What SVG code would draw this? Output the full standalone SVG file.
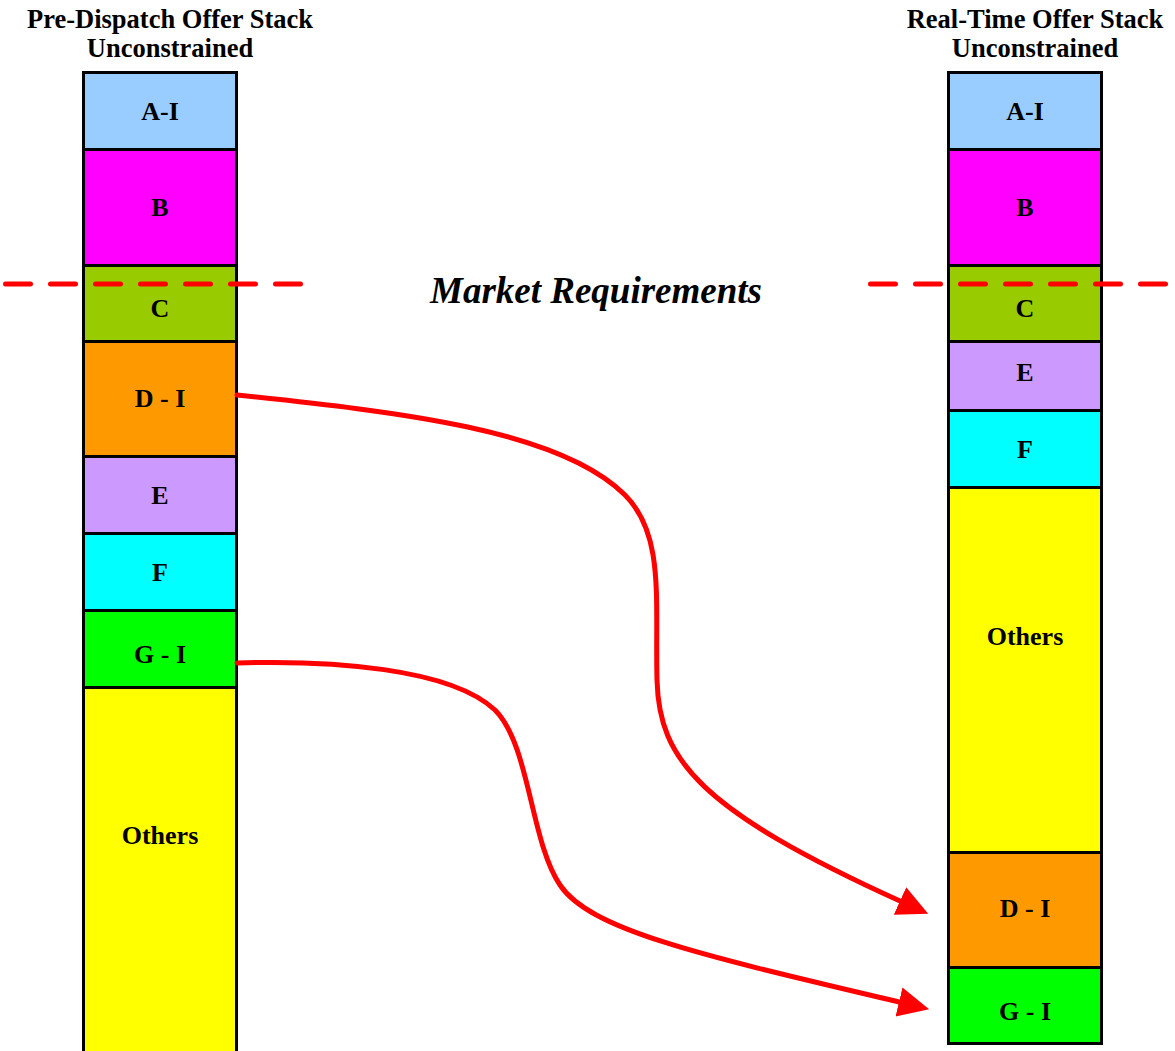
<svg xmlns="http://www.w3.org/2000/svg" width="1175" height="1051" viewBox="0 0 1175 1051">
  <style>
    .blk { stroke: #000; stroke-width: 3; }
    .lbl { font-family: "Liberation Serif", "Times New Roman", serif; font-weight: bold; font-size: 26px; text-anchor: middle; fill: #000; }
    .ttl { font-family: "Liberation Serif", "Times New Roman", serif; font-weight: bold; font-size: 26.5px; text-anchor: middle; fill: #000; }
    .req { font-family: "Liberation Serif", "Times New Roman", serif; font-weight: bold; font-style: italic; font-size: 37px; text-anchor: middle; fill: #000; }
    .cut { stroke: #FF0000; stroke-width: 5; stroke-dasharray: 25 20; stroke-linecap: round; fill: none; }
    .flow { stroke: #FF0000; stroke-width: 5; fill: none; stroke-linecap: round; }
  </style>
  <defs>
    <marker id="head" markerUnits="userSpaceOnUse" markerWidth="34" markerHeight="32" viewBox="0 -16 34 32" refX="0" refY="0" orient="auto">
      <path d="M0,-15 L31,0 L0,15 z" fill="#FF0000"/>
    </marker>
  </defs>

  <rect width="1175" height="1051" fill="#FFFFFF"/>

  <!-- Titles -->
  <text class="ttl" x="170" y="28">Pre-Dispatch Offer Stack</text>
  <text class="ttl" x="170" y="57">Unconstrained</text>
  <text class="ttl" x="1035" y="28">Real-Time Offer Stack</text>
  <text class="ttl" x="1035" y="57">Unconstrained</text>

  <!-- Pre-dispatch stack -->
  <g id="pd-ai"><rect class="blk" x="83.5" y="72.5" width="153" height="77" fill="#99CCFF"/><text class="lbl" x="160" y="120">A-I</text></g>
  <g id="pd-b"><rect class="blk" x="83.5" y="149.5" width="153" height="116" fill="#FF00FF"/><text class="lbl" x="160" y="216">B</text></g>
  <g id="pd-c"><rect class="blk" x="83.5" y="265.5" width="153" height="76" fill="#99CC00"/><text class="lbl" x="160" y="317">C</text></g>
  <g id="pd-di"><rect class="blk" x="83.5" y="341.5" width="153" height="115" fill="#FF9900"/><text class="lbl" x="160" y="407">D - I</text></g>
  <g id="pd-e"><rect class="blk" x="83.5" y="456.5" width="153" height="77" fill="#CC99FF"/><text class="lbl" x="160" y="504">E</text></g>
  <g id="pd-f"><rect class="blk" x="83.5" y="533.5" width="153" height="77" fill="#00FFFF"/><text class="lbl" x="160" y="581">F</text></g>
  <g id="pd-gi"><rect class="blk" x="83.5" y="610.5" width="153" height="77" fill="#00FF00"/><text class="lbl" x="160" y="663">G - I</text></g>
  <g id="pd-others"><rect class="blk" x="83.5" y="687.5" width="153" height="380" fill="#FFFF00"/><text class="lbl" x="160" y="844">Others</text></g>

  <!-- Real-time stack -->
  <g id="rt-ai"><rect class="blk" x="948.5" y="72.5" width="153" height="77" fill="#99CCFF"/><text class="lbl" x="1025" y="120">A-I</text></g>
  <g id="rt-b"><rect class="blk" x="948.5" y="149.5" width="153" height="116" fill="#FF00FF"/><text class="lbl" x="1025" y="216">B</text></g>
  <g id="rt-c"><rect class="blk" x="948.5" y="265.5" width="153" height="76" fill="#99CC00"/><text class="lbl" x="1025" y="317">C</text></g>
  <g id="rt-e"><rect class="blk" x="948.5" y="341.5" width="153" height="69" fill="#CC99FF"/><text class="lbl" x="1025" y="381">E</text></g>
  <g id="rt-f"><rect class="blk" x="948.5" y="410.5" width="153" height="77" fill="#00FFFF"/><text class="lbl" x="1025" y="458">F</text></g>
  <g id="rt-others"><rect class="blk" x="948.5" y="487.5" width="153" height="365" fill="#FFFF00"/><text class="lbl" x="1025" y="645">Others</text></g>
  <g id="rt-di"><rect class="blk" x="948.5" y="852.5" width="153" height="115" fill="#FF9900"/><text class="lbl" x="1025" y="917">D - I</text></g>
  <g id="rt-gi"><rect class="blk" x="948.5" y="967.5" width="153" height="76" fill="#00FF00"/><text class="lbl" x="1025" y="1020">G - I</text></g>

  <!-- Market requirement cut line -->
  <g id="market-requirements">
    <line class="cut" x1="5.5" y1="284" x2="303" y2="284"/>
    <line class="cut" x1="870.5" y1="284" x2="1168" y2="284"/>
    <text class="req" x="596" y="303">Market Requirements</text>
  </g>

  <!-- Connectors -->
  <g id="connectors">
    <path class="flow" marker-end="url(#head)" d="M237,395 C400,412 560,430 625,495 C665,535 655,600 657,680 C659,760 700,810 900,901"/>
    <path class="flow" marker-end="url(#head)" d="M237,663 C330,660 450,668 495,710 C530,745 530,840 560,885 C590,930 700,955 899,1002"/>
  </g>
</svg>
